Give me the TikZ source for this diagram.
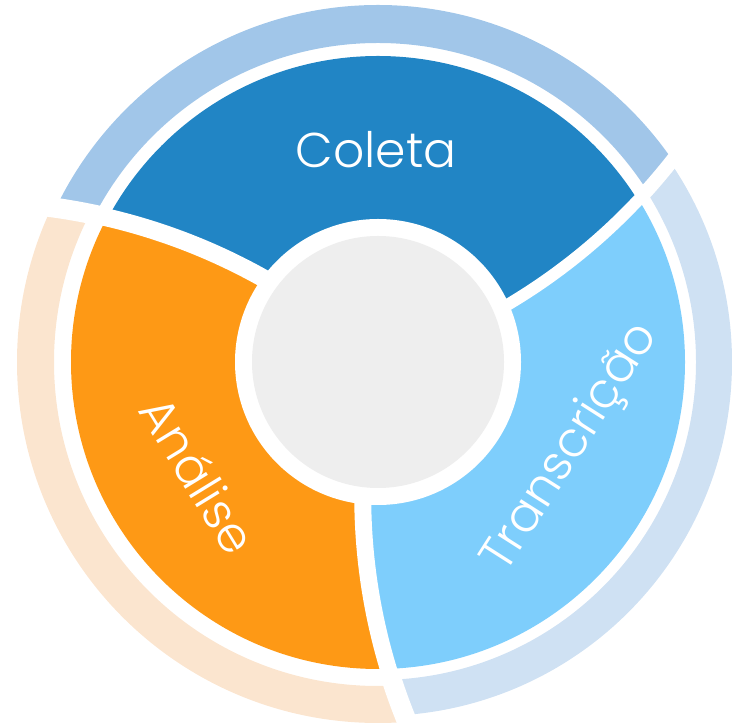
\documentclass[tikz,border=0pt]{standalone}
\usepackage{fontspec}
\newfontfamily\lblfont{Poppins Light}
\usetikzlibrary{calc}
\definecolor{cColeta}{HTML}{2185C5}
\definecolor{cTrans}{HTML}{7ECEFC}
\definecolor{cAnal}{HTML}{FE9915}
\definecolor{rColeta}{HTML}{A1C6E9}
\definecolor{rTrans}{HTML}{CFE1F3}
\definecolor{rAnal}{HTML}{FBE5CF}
\definecolor{cGray}{HTML}{EEEEEE}
% wedge between gap circle centred at angle #1 and gap circle centred at angle #2
\newcommand\mywedge[2]{(C) arc[start angle={#1+180}, delta angle=41, radius=596]
  arc[start angle={#1-69.5}, end angle={#2-69.5}, radius=417.5]
  arc[start angle={#2+221}, delta angle=-41, radius=596] -- cycle}
\newcommand\mygap[3]{%
  \draw[white, line width=#2] (C) arc[start angle={#1+180}, delta angle=41, radius=596];
  \draw[white, line width=#3] ($(C)+({#1-74.73}:314)$) arc[start angle={#1+210.55}, delta angle=10.45, radius=596];}
\begin{document}
\begin{tikzpicture}[x=1bp,y=1bp,
  lbl/.style={font=\lblfont\fontsize{49}{53}\selectfont, text=white, inner sep=0pt}]
\useasboundingbox (0,0) rectangle (732,725);
\coordinate (C) at (378,363);
% Coleta
\begin{scope}
  \clip \mywedge{107}{227};
  \fill[rColeta, even odd rule] (C) circle[radius=357] (C) circle[radius=319];
  \fill[cColeta] (C) circle[radius=306];
\end{scope}
% Analise
\begin{scope}
  \clip \mywedge{227}{347};
  \fill[rAnal, even odd rule] (C) circle[radius=361] (C) circle[radius=324];
  \fill[cAnal] (C) circle[radius=307];
\end{scope}
% Transcricao
\begin{scope}
  \clip \mywedge{347}{467};
  \fill[rTrans, even odd rule] (C) circle[radius=354] (C) circle[radius=318];
  \fill[cTrans] (C) circle[radius=307];
\end{scope}
% gaps
\mygap{107}{12}{14}
\mygap{227}{18}{20}
\mygap{347}{17}{20}
% centre
\fill[white] (C) circle[radius=143];
\fill[cGray] (C) circle[radius=126];
% labels
\node[lbl] (coleta) at ($(C)+(90.5:212)$) {Coleta};
\node[lbl, rotate=-58.5] (analise) at ($(C)+(212.2:212)$) {Análise};
\node[lbl, rotate=57.5] (transcricao) at ($(C)+(-24:212)$) {Transcrição};
\end{tikzpicture}
\end{document}
